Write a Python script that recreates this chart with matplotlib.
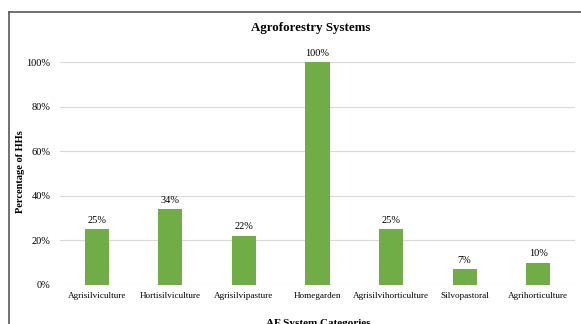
import matplotlib.pyplot as plt
from matplotlib.ticker import PercentFormatter
from matplotlib.lines import Line2D

categories = ["Agrisilviculture", "Hortisilviculture", "Agrisilvipasture", "Homegarden",
              "Agrisilvihorticulture", "Silvopastoral", "Agrihorticulture"]
values = [25, 34, 22, 100, 25, 7, 10]

plt.rcParams['font.family'] = ['Liberation Serif', 'DejaVu Serif']

fig = plt.figure(figsize=(5.81, 3.24), dpi=100)
ax = fig.add_axes([60 / 581, 39 / 324, 515 / 581, 223 / 324])

x = range(len(categories))
bars = ax.bar(x, values, width=0.33, color="#70AD47", zorder=3)
for b, v in zip(bars, values):
    ax.text(b.get_x() + b.get_width() / 2, v + 2, f"{v}%", ha="center", va="bottom", fontsize=7.5)

ax.set_ylim(0, 100)
ax.set_xlim(-0.5, len(categories) - 0.5)
ax.set_yticks(range(0, 101, 20))
ax.yaxis.set_major_formatter(PercentFormatter(decimals=0))
ax.set_xticks(list(x))
ax.set_xticklabels(categories, fontsize=6.6)
ax.tick_params(axis='y', labelsize=7.5, length=0, pad=7)
ax.tick_params(axis='x', length=0, pad=5)
ax.grid(axis='y', color="#d9d9d9", linewidth=0.8, zorder=0)
for s in ax.spines.values():
    s.set_visible(False)

fig.text(311 / 581, 1 - 28 / 324, "Agroforestry Systems", ha="center", va="center",
         fontsize=9.3, fontweight="bold")
fig.text(21 / 581, 1 - 172 / 324, "Percentage of HHs", ha="center", va="center",
         rotation=90, fontsize=7.5, fontweight="bold")
fig.text(318 / 581, 1 - 324 / 324, "AF System Categories", ha="center", va="center",
         fontsize=8, fontweight="bold")

# outer chart frame (cropped on right and bottom)
fig.add_artist(Line2D([9 / 581, 1], [1 - 12 / 324, 1 - 12 / 324], transform=fig.transFigure,
                      color="#595959", linewidth=1.2))
fig.add_artist(Line2D([9 / 581, 9 / 581], [0, 1 - 12 / 324], transform=fig.transFigure,
                      color="#595959", linewidth=1.2))

fig.savefig("out.png", dpi=100)
